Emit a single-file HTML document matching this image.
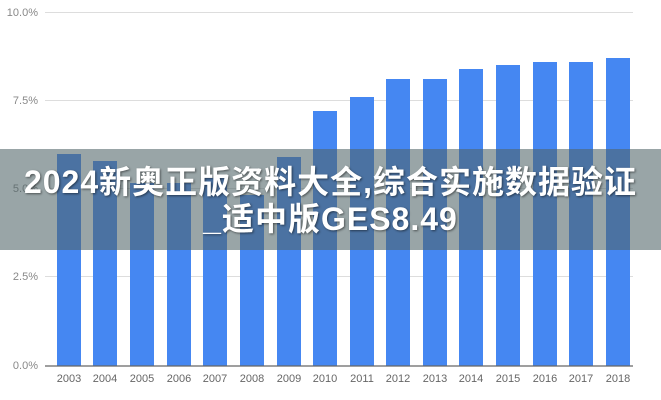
<!DOCTYPE html>
<html><head><meta charset="utf-8"><style>
body{margin:0;width:661px;height:400px;overflow:hidden;background:#fff;font-family:"Liberation Sans","Noto Sans CJK SC",sans-serif}
.t{position:absolute;left:0;width:661px;text-align:center;color:#fff;font-weight:bold;font-size:32px;line-height:36px;font-family:"Liberation Sans","Noto Sans CJK SC",sans-serif;text-shadow:1px 1px 2px rgba(0,0,0,0.5);white-space:nowrap;letter-spacing:1px}
</style></head><body>
<svg width="661" height="400" style="position:absolute;left:0;top:0">
<g stroke="#ddd" stroke-width="1">
<line x1="45" y1="12.5" x2="633" y2="12.5"/><line x1="45" y1="100.5" x2="633" y2="100.5"/><line x1="45" y1="188.5" x2="633" y2="188.5"/><line x1="45" y1="276.5" x2="633" y2="276.5"/>
</g>
<g font-size="11" fill="#888" text-anchor="end" font-family="Liberation Sans,sans-serif">
<text x="38" y="16">10.0%</text><text x="38" y="104">7.5%</text><text x="38" y="192">5.0%</text><text x="38" y="280">2.5%</text><text x="38" y="369">0.0%</text>
</g>
<g fill="#4587f2">
<rect x="57" y="154" width="24" height="212"/>
<rect x="93" y="161" width="24" height="205"/>
<rect x="130" y="183" width="24" height="183"/>
<rect x="167" y="183" width="24" height="183"/>
<rect x="203" y="178" width="24" height="188"/>
<rect x="240" y="195" width="24" height="171"/>
<rect x="277" y="157" width="24" height="209"/>
<rect x="313" y="111" width="24" height="255"/>
<rect x="350" y="97" width="24" height="269"/>
<rect x="386" y="79" width="24" height="287"/>
<rect x="423" y="79" width="24" height="287"/>
<rect x="459" y="69" width="24" height="297"/>
<rect x="496" y="65" width="24" height="301"/>
<rect x="533" y="62" width="24" height="304"/>
<rect x="569" y="62" width="24" height="304"/>
<rect x="606" y="58" width="24" height="308"/>
</g>
<line x1="45" y1="366" x2="633" y2="366" stroke="#666" stroke-width="1.2"/>
<g font-size="11" fill="#666" text-anchor="middle" font-family="Liberation Sans,sans-serif">
<text x="69" y="382">2003</text><text x="105" y="382">2004</text><text x="142" y="382">2005</text><text x="179" y="382">2006</text><text x="215" y="382">2007</text><text x="252" y="382">2008</text><text x="289" y="382">2009</text><text x="325" y="382">2010</text><text x="362" y="382">2011</text><text x="398" y="382">2012</text><text x="435" y="382">2013</text><text x="471" y="382">2014</text><text x="508" y="382">2015</text><text x="545" y="382">2016</text><text x="581" y="382">2017</text><text x="618" y="382">2018</text>
</g>
<rect x="0" y="149" width="661" height="101" fill="rgba(80,100,104,0.58)"/>
</svg>
<div class="t" style="top:164px">2024新奥正版资料大全,综合实施数据验证</div>
<div class="t" style="top:201px">_适中版GES8.49</div>
</body></html>
